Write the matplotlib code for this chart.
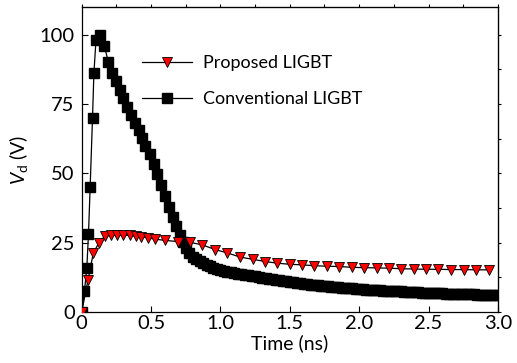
import matplotlib
matplotlib.use('Agg')
import matplotlib.pyplot as plt
import numpy as np

# Proposed LIGBT (red down-triangles)
t_prop = [0, 0.045, 0.084, 0.125, 0.165, 0.21, 0.255, 0.30, 0.345, 0.39, 0.43, 0.475,
          0.525, 0.603, 0.693, 0.782, 0.87, 0.962, 1.05, 1.143, 1.232, 1.323, 1.41, 1.5,
          1.588, 1.676, 1.768, 1.857, 1.948, 2.037, 2.128, 2.215, 2.304, 2.392, 2.482,
          2.571, 2.662, 2.753, 2.842, 2.933]
v_prop = [0, 11.4, 21.3, 25.0, 27.3, 27.6, 27.6, 27.7, 27.6, 27.3, 27.1, 26.8,
          26.3, 25.8, 25.4, 25.1, 24.2, 22.5, 21.3, 19.8, 19.0, 18.2, 17.6, 17.2,
          17.0, 16.7, 16.5, 16.4, 16.1, 16.0, 15.9, 15.8, 15.6, 15.5, 15.4,
          15.4, 15.3, 15.3, 15.2, 15.2]

# Conventional LIGBT (black squares)
t_conv = [0, 0.02, 0.037, 0.049, 0.061, 0.078, 0.088, 0.103, 0.135, 0.164, 0.193, 0.218,
          0.244, 0.273, 0.301, 0.33, 0.357, 0.386, 0.41, 0.434, 0.458, 0.489, 0.518,
          0.542, 0.571, 0.597, 0.626, 0.655, 0.681, 0.71, 0.73,
          0.75, 0.775, 0.8, 0.825, 0.85, 0.875, 0.9, 0.925, 0.95, 0.975,
          1.0, 1.025, 1.05, 1.075, 1.1, 1.125, 1.15, 1.175, 1.2, 1.225,
          1.25, 1.275, 1.3, 1.325, 1.35, 1.375, 1.4, 1.425, 1.45, 1.475,
          1.5, 1.525, 1.55, 1.575, 1.6, 1.625, 1.65, 1.675, 1.7, 1.725,
          1.75, 1.775, 1.8, 1.825, 1.85, 1.875, 1.9, 1.925, 1.95, 1.975,
          2.0, 2.025, 2.05, 2.075, 2.1, 2.125, 2.15, 2.175, 2.2, 2.225,
          2.25, 2.275, 2.3, 2.325, 2.35, 2.375, 2.4, 2.425, 2.45, 2.475,
          2.5, 2.525, 2.55, 2.575, 2.6, 2.625, 2.65, 2.675, 2.7, 2.725,
          2.75, 2.775, 2.8, 2.825, 2.85, 2.875, 2.9, 2.925, 2.95, 2.975, 3.0]
v_conv = [0, 7.6, 16, 28, 45, 70, 86, 98, 100, 95.8, 90, 86.2,
          83.2, 80.1, 77.1, 73.9, 71.1, 68.1, 65.7, 62.7, 59.9, 57, 53.4,
          49.8, 45.8, 41.9, 38, 34.4, 31, 27.8, 25.4,
          23.2, 21.3, 20.0, 19.1, 18.3, 17.6, 17.0, 16.5, 16.0, 15.6,
          15.2, 14.9, 14.6, 14.35, 14.1, 13.85, 13.6, 13.4, 13.2, 13.0,
          12.8, 12.6, 12.4, 12.2, 12.0, 11.8, 11.6, 11.4, 11.2, 11.05,
          10.9, 10.7, 10.5, 10.35, 10.2, 10.05, 9.9, 9.75, 9.6, 9.5,
          9.4, 9.25, 9.1, 9.0, 8.9, 8.8, 8.7, 8.6, 8.5, 8.4,
          8.3, 8.2, 8.1, 8.02, 7.95, 7.87, 7.8, 7.72, 7.65, 7.57,
          7.5, 7.45, 7.4, 7.32, 7.25, 7.17, 7.1, 7.05, 7.0, 6.95,
          6.9, 6.85, 6.8, 6.75, 6.7, 6.65, 6.6, 6.55, 6.5, 6.47,
          6.45, 6.4, 6.35, 6.32, 6.3, 6.25, 6.2, 6.17, 6.15, 6.12, 6.1]

plt.rcParams['font.family'] = ['Lato', 'DejaVu Sans']
plt.rcParams['mathtext.fontset'] = 'custom'
plt.rcParams['mathtext.rm'] = 'Lato'
plt.rcParams['mathtext.it'] = 'Lato:italic'

fig = plt.figure(figsize=(5.17, 3.63), dpi=100)
ax = fig.add_axes([0.158, 0.1405, 0.805, 0.8405])

ax.plot(t_conv, v_conv, color='black', lw=0.9, marker='s', ms=6.5,
        mfc='black', mec='black', label='Conventional LIGBT', zorder=3)
ax.plot(t_prop, v_prop, color='black', lw=0.9, marker='v', ms=7.5,
        mfc='red', mec='black', mew=0.6, label='Proposed LIGBT', zorder=4)

ax.set_xlim(0, 3.0)
ax.set_ylim(0, 110)
ax.set_xticks(np.arange(0, 3.01, 0.5))
ax.set_xticklabels(['0', '0.5', '1.0', '1.5', '2.0', '2.5', '3.0'])
ax.set_yticks([0, 25, 50, 75, 100])
ax.tick_params(direction='in', length=4, width=0.8, labelsize=14.5)
ax.tick_params(axis='x', pad=2)
ax.tick_params(axis='y', pad=5)

top = ax.secondary_xaxis('top')
top.set_xticks(np.arange(0, 3.01, 0.25))
top.tick_params(direction='out', length=2, width=0.8, labeltop=False)
right = ax.secondary_yaxis('right')
right.set_yticks(np.arange(0, 110, 12.5))
right.tick_params(direction='out', length=2, width=0.8, labelright=False)

for s in ax.spines.values():
    s.set_linewidth(0.9)

ax.set_xlabel('Time (ns)', fontsize=14, labelpad=2)
ax.set_ylabel('$V_\\mathrm{d}$ (V)', fontsize=14, labelpad=7)

h, l = ax.get_legend_handles_labels()
ax.legend(h[::-1], l[::-1], loc='upper left', bbox_to_anchor=(0.105, 0.895),
          frameon=False, fontsize=13, handlelength=2.8, labelspacing=1.1,
          handletextpad=0.6)

fig.savefig('out.png', dpi=100)
